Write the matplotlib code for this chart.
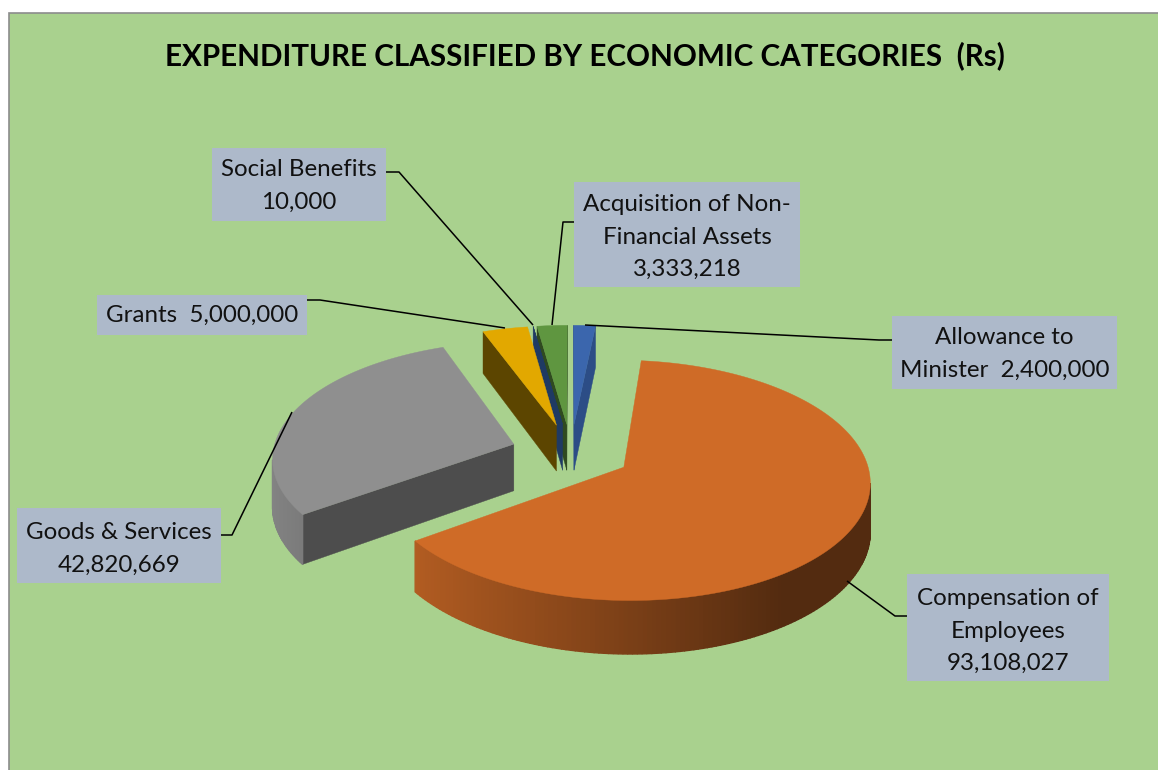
import numpy as np
import matplotlib
matplotlib.use("Agg")
import matplotlib.pyplot as plt
from matplotlib.patches import Polygon, Rectangle

# data
categories = ["Compensation of Employees", "Goods & Services", "Grants", "Social Benefits",
              "Acquisition of Non-Financial Assets", "Allowance to Minister"]
values = [93108027, 42820669, 5000000, 10000, 3333218, 2400000]
label_lines = ["Compensation of\nEmployees\n93,108,027", "Goods & Services\n42,820,669", "Grants  5,000,000",
               "Social Benefits\n10,000", "Acquisition of Non-\nFinancial Assets\n3,333,218",
               "Allowance to\nMinister  2,400,000"]
title = "EXPENDITURE CLASSIFIED BY ECONOMIC CATEGORIES  (Rs)"

# styles
top_colors = ["#cf6b27", "#8f8f8f", "#e2a800", "#1f3a63", "#5f9640", "#3b66ad"]
side_colors = ["#8a4a1c", "#4d4d4d", "#5c4500", "#1f3a63", "#2f4a20", "#2c4d86"]
background = "#a9d18e"
box_color = "#adb9ca"
font = "Lato"
draw_order = [5, 4, 3, 2, 1, 0]
# x0, y0, x1, y1 of each label box, then the middle of its text
boxes = [(907, 574, 1109, 681), (17, 508, 221, 583), (97, 295, 307, 335),
         (212, 148, 386, 221), (574, 182, 800, 287), (892, 316, 1117, 389)]
text_mid = [631, 549, 315, 186, 237, 354]
leaders = [[(847, 581), (895, 616), (907, 616)], [(221, 535), (232, 535), (292, 412)],
           [(307, 300), (320, 300), (505, 328)], [(386, 172), (399, 172), (533, 325)],
           [(574, 222), (563, 222), (552, 325)], [(585, 325), (879, 340), (892, 340)]]

# pie geometry, pixels
cx, cy = 571, 452.5
rx, ry = 241, 115.5
persp = 0.108
explode = 0.25
depth = 47
first_angle = 5.9

def project(u, v, drop=0.0):
    s = 1 + persp * v
    return cx + rx * u / s, cy - ry * v / s + drop * depth / s

def disc_point(theta, mid, radius=1.0):
    t, m = np.radians(theta), np.radians(mid)
    return explode * np.sin(m) + radius * np.sin(t), explode * np.cos(m) + radius * np.cos(t)

def signed_area(pts):
    x, y = np.array(pts).T
    return 0.5 * np.sum(x * np.roll(y, -1) - np.roll(x, -1) * y)

def add_face(ax, pts, color, lw=0.3):
    # only faces turned to the viewer
    if signed_area(pts) < 0:
        ax.add_patch(Polygon(pts, closed=True, fc=color, ec=color, lw=lw, zorder=2))

def wall_color(color, theta):
    f = max(0.40, 0.59 - 0.33 * np.sin(np.radians(theta)))
    return np.array(matplotlib.colors.to_rgb(color)) * f

def draw_slice(ax, start, end, top_c, side_c):
    mid = (start + end) / 2
    apex = disc_point(0, mid, 0)
    a_top, a_bot = project(*apex), project(*apex, 1)
    p0 = disc_point(start, mid)
    p1 = disc_point(end, mid)
    add_face(ax, [a_top, project(*p0), project(*p0, 1), a_bot], side_c)
    add_face(ax, [project(*p1), a_top, a_bot, project(*p1, 1)], side_c)
    angles = np.linspace(start, end, max(3, int(end - start) + 2))
    for t0, t1 in zip(angles[:-1], angles[1:]):
        q0, q1 = disc_point(t0, mid), disc_point(t1, mid)
        add_face(ax, [project(*q0), project(*q1), project(*q1, 1), project(*q0, 1)],
                 wall_color(top_c, (t0 + t1) / 2), lw=1.0)
    rim = [project(*disc_point(t, mid)) for t in angles]
    ax.add_patch(Polygon([a_top] + rim, closed=True, fc=top_c, ec=top_c, lw=0.3, zorder=2))

fig = plt.figure(figsize=(11.58, 7.7), dpi=100, facecolor="white")
ax = fig.add_axes([0, 0, 1, 1])
ax.set_xlim(0, 1158)
ax.set_ylim(770, 0)
ax.axis("off")
ax.add_patch(Rectangle((9, 12.5), 1160, 770, fc=background, ec="#8c8c8c", lw=1.2, zorder=1))

sweep = 360 * np.array(values) / np.sum(values)
starts = first_angle + np.concatenate(([0], np.cumsum(sweep)[:-1]))
for i in draw_order:
    draw_slice(ax, starts[i], starts[i] + sweep[i], top_colors[i], side_colors[i])

for pts in leaders:
    x, y = zip(*pts)
    ax.plot(x, y, color="black", lw=1.1, zorder=3, solid_capstyle="butt")
for (x0, y0, x1, y1), ym, txt in zip(boxes, text_mid, label_lines):
    ax.add_patch(Rectangle((x0, y0), x1 - x0, y1 - y0, fc=box_color, ec="none", zorder=4))
    ax.text((x0 + x1) / 2, ym, txt, ha="center", va="center", fontsize=17.4, family=font,
            color="#111111", linespacing=1.66, zorder=5)

ax.text(585, 56, title, ha="center", va="center", fontsize=21.3, fontweight="bold", family=font, color="black", zorder=5)

fig.savefig("out.png", dpi=100, facecolor="white")
